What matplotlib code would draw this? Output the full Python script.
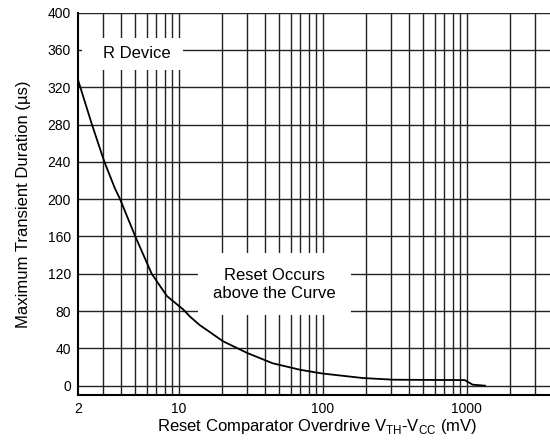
import numpy as np
import matplotlib
matplotlib.use("Agg")
import matplotlib.pyplot as plt
from matplotlib.patches import Rectangle

plt.rcParams['font.family'] = ['Liberation Sans', 'DejaVu Sans']

# curve
overdrive_mV = [2, 2.5, 3.05, 3.6, 3.92, 5.0, 6.5, 8.3, 10.8, 12, 14, 20.4, 30, 45, 70, 100,
                190, 310, 500, 970, 1100, 1340]
duration_us = [328, 280, 240, 212, 200, 160, 120, 96, 81.5, 74, 65, 47.5, 35, 24, 17, 13,
               8.2, 6.4, 6.2, 6.0, 1.1, 0]

y_ticks = [0, 40, 80, 120, 160, 200, 240, 280, 320, 360, 400]
x_ticks = [2, 10, 100, 1000]
x_grid = [3, 4, 5, 6, 7, 8, 9, 10, 20, 30, 40, 50, 60, 70, 80, 90, 100,
          200, 300, 400, 500, 600, 700, 800, 900, 1000, 2000, 3000]

fig = plt.figure(figsize=(5.5, 4.43), dpi=100)
ax = fig.add_axes([78 / 550, 1 - 395 / 443, (555.5 - 78) / 550, (395 - 12.7) / 443])

ax.set_xscale('log')
ax.set_xlim(2, 4140)
ax.set_ylim(-10, 400)

grid_col = '#222222'
for y in y_ticks:
    ax.axhline(y, color=grid_col, lw=1.0, zorder=1)
for x in x_grid:
    ax.axvline(x, color=grid_col, lw=1.0, zorder=1)

ax.plot(overdrive_mV, duration_us, color='black', lw=1.3, zorder=3)

ax.set_yticks(y_ticks)
ax.set_xticks(x_ticks)
ax.set_xticklabels([str(v) for v in x_ticks])
ax.xaxis.set_minor_locator(matplotlib.ticker.NullLocator())
ax.tick_params(length=0, labelsize=10, pad=5)

for s in ['top', 'right']:
    ax.spines[s].set_visible(False)
for s in ['left', 'bottom']:
    ax.spines[s].set_linewidth(1.5)

ax.set_xlabel(r'Reset Comparator Overdrive V$_{\mathregular{TH}}$-V$_{\mathregular{CC}}$ (mV)',
              fontsize=12, labelpad=1)
ax.set_ylabel('Maximum Transient Duration (µs)', fontsize=12, labelpad=12)

# white label boxes over the grid
ax.add_patch(Rectangle((2.13, 338.8), 10.7 - 2.13, 373 - 338.8, fc='white', ec='none', zorder=4))
ax.text(5.14, 356, 'R Device', fontsize=12, ha='center', va='center', zorder=5)
ax.add_patch(Rectangle((13.6, 76.1), 157 - 13.6, 142.6 - 76.1, fc='white', ec='none', zorder=4))
ax.text(46, 109, 'Reset Occurs\nabove the Curve', fontsize=12, ha='center', va='center',
        linespacing=1.25, zorder=5)

fig.savefig('out.png', dpi=100)
